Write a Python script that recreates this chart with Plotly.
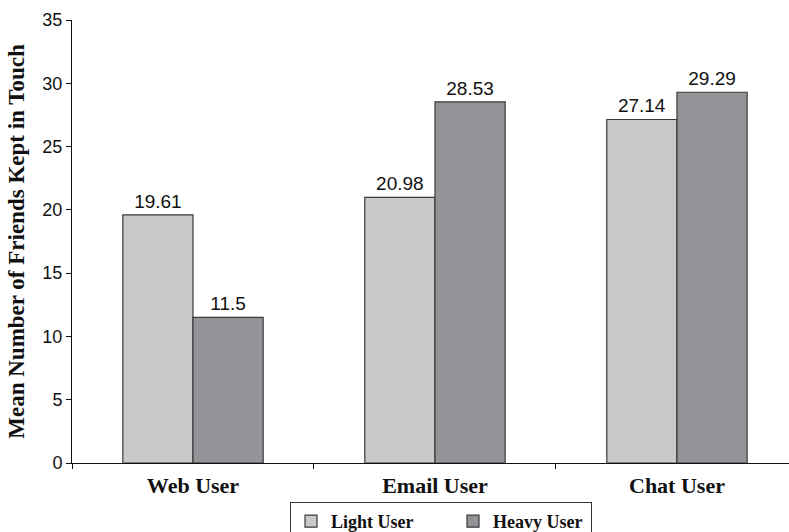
import plotly.graph_objects as go

categories = ["Web User", "Email User", "Chat User"]
light_user = [19.61, 20.98, 27.14]
heavy_user = [11.5, 28.53, 29.29]
series_names = ["Light User", "Heavy User"]
y_ticks = [0, 5, 10, 15, 20, 25, 30, 35]

serif = "Liberation Serif"
sans = "Liberation Sans"

fig = go.Figure()
for name, vals, color, lw in [
    (series_names[0], light_user, "#c8c9cb", 117),
    (series_names[1], heavy_user, "#939497", 93),
]:
    fig.add_trace(go.Bar(
        x=categories, y=vals, name=name,
        marker=dict(color=color, line=dict(color="#3a3a3a", width=1.2)),
        text=[str(v) for v in vals], textposition="outside",
        textfont=dict(family=sans, size=19, color="#111111"),
        cliponaxis=False, legendwidth=lw,
    ))

fig.update_layout(
    width=789, height=532,
    margin=dict(l=72, r=0, t=20, b=69, autoexpand=False),
    paper_bgcolor="white", plot_bgcolor="white",
    barmode="group", bargap=0.42, bargroupgap=0,
    showlegend=True,
    legend=dict(
        orientation="h", x=(290 - 72) / 717, xanchor="left",
        yref="container", y=1 - 502 / 532, yanchor="top",
        bordercolor="#333333", borderwidth=1,
        font=dict(family=serif, size=18, color="#111111", weight="bold"),
    ),
    xaxis=dict(
        type="category", range=[-0.5, 2.463],
        showline=True, linecolor="#111111", linewidth=1,
        ticks="outside", tickson="boundaries", ticklen=5, tickcolor="#111111",
        tickfont=dict(family=serif, size=22, color="#111111", weight="bold"),
        ticklabelstandoff=3,
        showgrid=False, zeroline=False,
    ),
    yaxis=dict(
        range=[0, 35], tickvals=y_ticks,
        showline=True, linecolor="#111111", linewidth=1,
        ticks="outside", ticklen=5, tickcolor="#111111",
        tickfont=dict(family=sans, size=18, color="#111111"),
        showgrid=False, zeroline=False,
        title=dict(text="Mean Number of Friends Kept in Touch",
                   font=dict(family=serif, size=23, color="#111111", weight="bold"),
                   standoff=11),
    ),
)

fig.write_html("out.html")
